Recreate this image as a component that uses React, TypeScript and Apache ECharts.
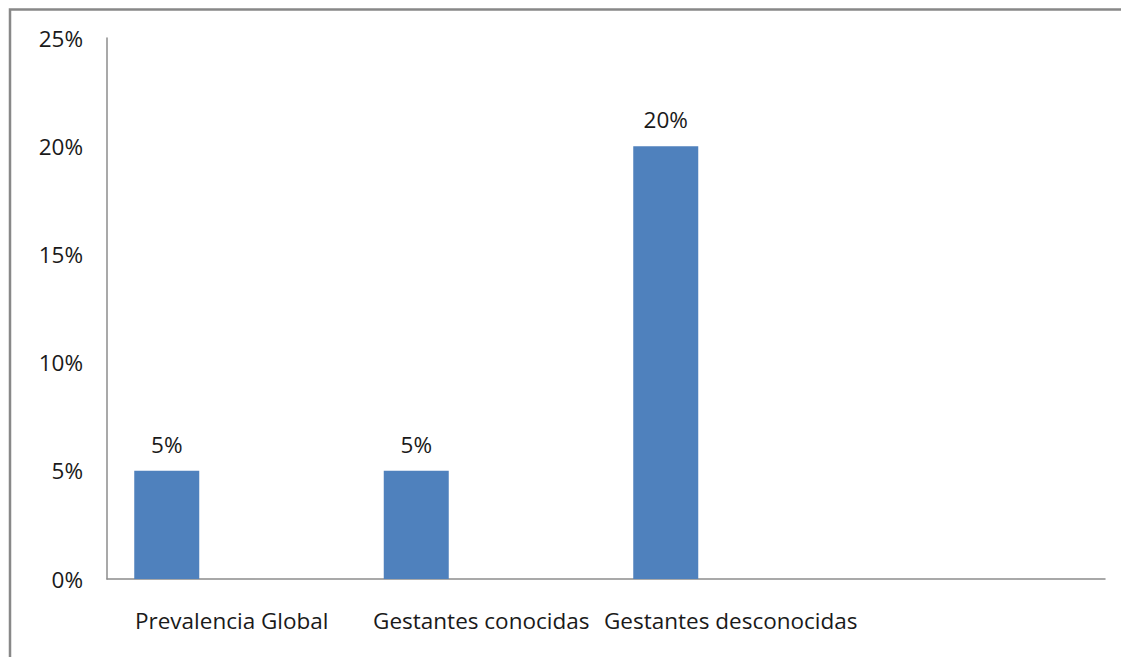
import React, { useEffect, useRef } from "react";
import * as echarts from "echarts";

const categories = ["Prevalencia Global", "Gestantes conocidas", "Gestantes desconocidas", ""];
const values = [5, 5, 20, null];
const emptySeries = [null, null, null, null];
const yTicks = [0, 5, 10, 15, 20, 25];

const FONT = "Open Sans";
const FS = 22.5;

export default function App() {
  const ref = useRef<HTMLDivElement>(null);
  useEffect(() => {
    if (!ref.current) return;
    const chart = echarts.init(ref.current, undefined, { renderer: "svg" });
    chart.setOption({
      animation: false,
      backgroundColor: "#ffffff",
      grid: { left: 107, right: 16, top: 38, bottom: 78, containLabel: false },
      graphic: [
        {
          type: "rect",
          shape: { x: 10, y: 9.5, width: 1300, height: 900 },
          style: { fill: "none", stroke: "#888888", lineWidth: 2.5 },
          silent: true,
        },
      ],
      xAxis: {
        type: "category",
        data: categories,
        axisLine: { lineStyle: { color: "#8c8c8c", width: 1.5 } },
        axisTick: { show: false },
        axisLabel: {
          interval: 0,
          margin: 30,
          color: "#1a1a1a",
          fontFamily: FONT,
          fontSize: FS,
        },
      },
      yAxis: {
        type: "value",
        min: yTicks[0],
        max: yTicks[yTicks.length - 1],
        interval: 5,
        axisLine: { show: true, lineStyle: { color: "#8c8c8c", width: 1.5 } },
        axisTick: { show: false },
        splitLine: { show: false },
        axisLabel: {
          margin: 24,
          color: "#1a1a1a",
          fontFamily: FONT,
          fontSize: FS,
          formatter: (v: number) => v + "%",
        },
      },
      series: [
        {
          type: "bar",
          data: values,
          barWidth: 65,
          barGap: "100%",
          itemStyle: { color: "#4F81BD" },
          label: {
            show: true,
            position: "top",
            distance: 15,
            color: "#1a1a1a",
            fontFamily: FONT,
            fontSize: FS,
            formatter: (p: any) => p.value + "%",
          },
        },
        {
          type: "bar",
          data: emptySeries,
          barWidth: 65,
          itemStyle: { color: "#C0504D" },
        },
      ],
    });
    return () => chart.dispose();
  }, []);
  return (
    <div
      ref={ref}
      style={{ position: "fixed", left: 0, top: 0, width: 1121, height: 657 }}
    />
  );
}
